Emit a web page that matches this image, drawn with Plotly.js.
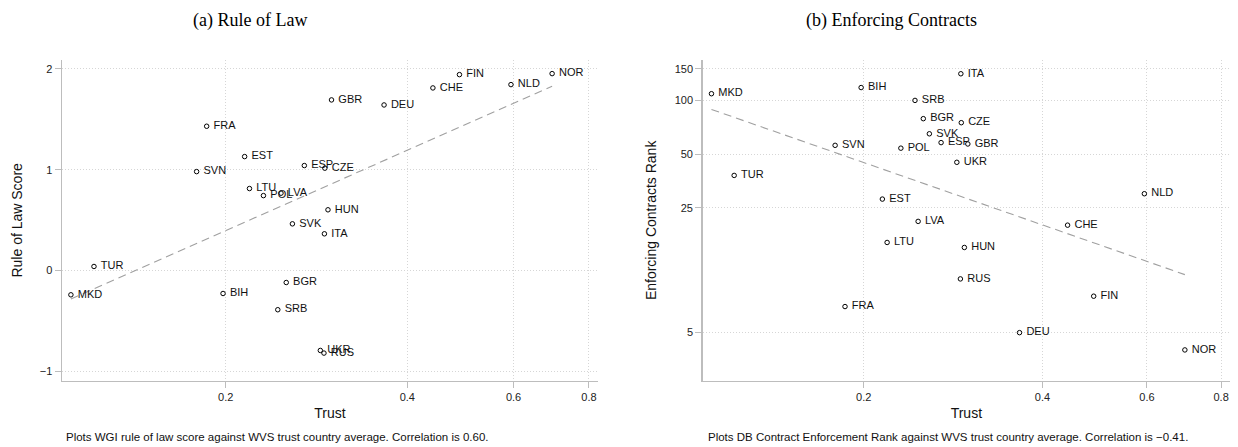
<!DOCTYPE html>
<html>
<head>
<meta charset="utf-8">
<script src="https://cdn.plot.ly/plotly-3.0.1.min.js"></script>
<style>html,body{margin:0;padding:0;background:#fff;}#chart{width:1238px;height:447px;}</style>
</head>
<body>
<div id="chart"></div>
<script>
// ---- data ----
const countries = ["MKD","TUR","SVN","FRA","BIH","EST","LTU","POL","SRB","LVA","BGR","SVK","ESP","UKR","ITA","RUS","CZE","HUN","GBR","DEU","CHE","FIN","NLD","NOR"];
const trust     = [0.1108,0.121,0.179,0.186,0.198,0.215,0.219,0.231,0.244,0.247,0.252,0.258,0.270,0.287,0.2915,0.291,0.292,0.2955,0.2995,0.366,0.441,0.488,0.594,0.695];
const ruleOfLaw = [-0.240,0.041,0.982,1.432,-0.227,1.131,0.814,0.744,-0.388,0.768,-0.118,0.464,1.042,-0.792,0.365,-0.818,1.016,0.603,1.693,1.643,1.812,1.944,1.845,1.954];
const contractRank = [109,38,56,7,118,28,16,54,100,21,79,65,58,45,141,10,75,15,57,5,20,8,30,4];

const xTicks = [0.2,0.4,0.6,0.8];
const xTickText = ["0.2","0.4","0.6","0.8"];
const y1Ticks = [-1,0,1,2];
const y1TickText = ["\u22121","0","1","2"];
const y2Ticks = [5,25,50,100,150];
const y2TickText = ["5","25","50","100","150"];

const titleA = "(a) Rule of Law";
const titleB = "(b) Enforcing Contracts";
const noteA = "Plots WGI rule of law score against WVS trust country average. Correlation is 0.60.";
const noteB = "Plots DB Contract Enforcement Rank against WVS trust country average. Correlation is \u22120.41.";

// ---- OLS fit on log10(trust) ----
function ols(xs, ys){
  const n = xs.length;
  const mx = xs.reduce((a,b)=>a+b,0)/n, my = ys.reduce((a,b)=>a+b,0)/n;
  let sxy=0, sxx=0;
  for(let i=0;i<n;i++){ sxy += (xs[i]-mx)*(ys[i]-my); sxx += (xs[i]-mx)**2; }
  const b = sxy/sxx; return {a: my - b*mx, b: b};
}
const lx = trust.map(Math.log10);
const fitA = ols(lx, ruleOfLaw);
const fitB = ols(lx, contractRank.map(Math.log10));
const xmin = Math.min(...trust), xmax = Math.max(...trust);
const fitX = [xmin, xmax];
const fitYA = fitX.map(x => fitA.a + fitA.b*Math.log10(x));
const fitYB = fitX.map(x => Math.pow(10, fitB.a + fitB.b*Math.log10(x)));

const font = "Liberation Sans, Arial, Helvetica, sans-serif";
const markerStyle = {symbol:"circle-open", size:4.5, color:"#000", line:{color:"#000", width:1}};
const textStyle = {family:font, size:11, color:"#111"};

const traces = [
  {x:fitX, y:fitYA, xaxis:"x", yaxis:"y", mode:"lines", line:{color:"#a0a0a0", width:1.1, dash:"8px,5px"}, hoverinfo:"skip", showlegend:false},
  {x:trust, y:ruleOfLaw, text:countries, texttemplate:"\u00a0%{text}", xaxis:"x", yaxis:"y", mode:"markers+text", textposition:"middle right", marker:markerStyle, textfont:textStyle, cliponaxis:false, showlegend:false},
  {x:fitX, y:fitYB, xaxis:"x2", yaxis:"y2", mode:"lines", line:{color:"#a0a0a0", width:1.1, dash:"8px,5px"}, hoverinfo:"skip", showlegend:false},
  {x:trust, y:contractRank, text:countries, texttemplate:"\u00a0%{text}", xaxis:"x2", yaxis:"y2", mode:"markers+text", textposition:"middle right", marker:markerStyle, textfont:textStyle, cliponaxis:false, showlegend:false}
];

const W = 1238, H = 447;
const axisCommon = {
  showline:true, linecolor:"#bdbdbd", linewidth:1.5,
  ticks:"outside", ticklen:6, tickwidth:1, tickcolor:"#bdbdbd",
  showgrid:true, gridcolor:"#d6d6d6", gridwidth:1, griddash:"1px,2px",
  zeroline:false, tickfont:{family:font, size:11, color:"#222"},
  mirror:false
};
const xRange = [Math.log10(0.1071), Math.log10(0.828)];
const yDom = [(H-380.7)/H, (H-60)/H];

const layout = {
  width:W, height:H, margin:{l:0,r:0,t:0,b:0},
  paper_bgcolor:"#fff", plot_bgcolor:"#fff", showlegend:false,
  xaxis: Object.assign({}, axisCommon, {type:"log", domain:[62/W, 598/W], range:xRange, tickvals:xTicks, ticktext:xTickText, anchor:"y",
          title:{text:"Trust", font:{family:font, size:14, color:"#111"}, standoff:6}}),
  yaxis: Object.assign({}, axisCommon, {domain:yDom, range:[-1.092, 2.089], tickvals:y1Ticks, ticktext:y1TickText, anchor:"x",
          title:{text:"Rule of Law Score", font:{family:font, size:14, color:"#111"}, standoff:14}}),
  xaxis2: Object.assign({}, axisCommon, {type:"log", domain:[702.7/W, 1230/W], range:xRange, tickvals:xTicks, ticktext:xTickText, anchor:"y2",
          title:{text:"Trust", font:{family:font, size:14, color:"#111"}, standoff:6}}),
  yaxis2: Object.assign({}, axisCommon, {type:"log", domain:yDom, range:[0.4297, 2.2263], tickvals:y2Ticks, ticktext:y2TickText, anchor:"x2",
          title:{text:"Enforcing Contracts Rank", font:{family:font, size:14, color:"#111"}, standoff:14}}),
  annotations:[
    {text:titleA, xref:"paper", yref:"paper", x:249.5/W, y:1-20/H, xanchor:"center", yanchor:"middle", showarrow:false, font:{family:"Liberation Serif, Times New Roman, serif", size:18, color:"#000"}},
    {text:titleB, xref:"paper", yref:"paper", x:892/W, y:1-20/H, xanchor:"center", yanchor:"middle", showarrow:false, font:{family:"Liberation Serif, Times New Roman, serif", size:18, color:"#000"}},
    {text:noteA, xref:"paper", yref:"paper", x:64/W, y:1-437/H, xanchor:"left", yanchor:"middle", showarrow:false, font:{family:font, size:11.5, color:"#111"}},
    {text:noteB, xref:"paper", yref:"paper", x:706/W, y:1-437/H, xanchor:"left", yanchor:"middle", showarrow:false, font:{family:font, size:11.5, color:"#111"}}
  ]
};

Plotly.newPlot("chart", traces, layout, {staticPlot:true, displayModeBar:false});
</script>
</body>
</html>
